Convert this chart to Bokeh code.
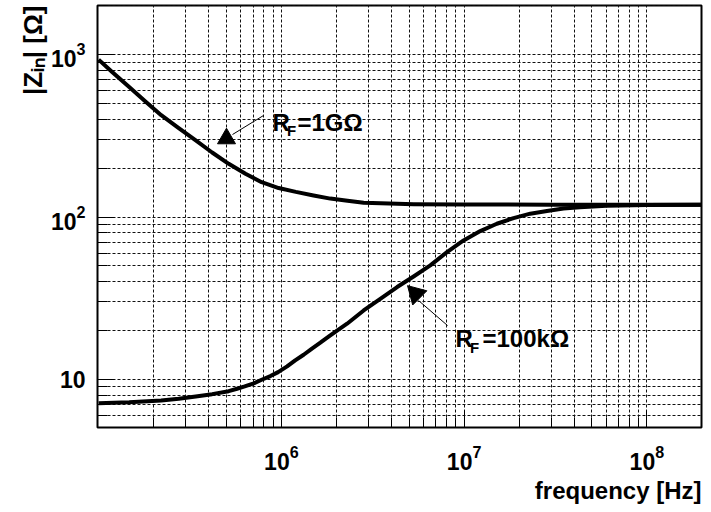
import math
from bokeh.plotting import figure
from bokeh.models import Label, FixedTicker, LogTickFormatter, Title
from bokeh.embed import file_html
from bokeh.resources import INLINE

# ---------------- data ----------------
freq_1g = [1.0e5, 1.186e5, 1.47e5, 1.804e5, 2.2e5, 2.744e5, 3.4e5, 4.18e5,
           5.15e5, 6.36e5, 7.8e5, 9.66e5, 1.2e6, 1.5e6, 1.853e6, 2.3e6,
           2.82e6, 3.5e6, 5.3e6, 1.0e7, 3.0e7, 1.0e8, 2.0e8]
z_1g = [933, 782, 632, 516, 424, 353, 297, 250,
        213, 185, 164, 151, 143, 136, 130, 126,
        122.7, 121.5, 120, 119.5, 119.3, 119.2, 119.2]

freq_100k = [1.0e5, 1.47e5, 2.2e5, 2.744e5, 3.4e5, 4.18e5, 5.15e5, 5.72e5,
             6.3e5, 7.06e5, 7.8e5, 8.71e5, 9.6e5, 1.075e6, 1.19e6, 1.324e6,
             1.47e6, 1.634e6, 1.82e6, 2.017e6, 2.288e6, 2.82e6, 3.478e6,
             4.3e6, 5.29e6, 6.53e6, 8.06e6, 9.93e6, 1.226e7, 1.51e7, 1.864e7,
             2.3e7, 2.84e7, 3.5e7, 4.3e7, 6.0e7, 1.0e8, 2.0e8]
z_100k = [7.14, 7.24, 7.43, 7.61, 7.86, 8.12, 8.47, 8.77,
          9.06, 9.46, 9.96, 10.49, 11.1, 12.03, 13.1, 14.2,
          15.5, 16.84, 18.4, 20.0, 22.05, 26.6, 31.4,
          37.1, 43.1, 50.4, 60.9, 71.8, 82.0, 91.0, 98.6,
          105, 108.9, 113, 115, 117.5, 118.7, 119.2]

x_major = [1e6, 1e7, 1e8]
y_major = [10, 100, 1000]
y_plain_labels = {10: "10"}
x_title = "frequency [Hz]"
y_title = "|Z\u1d62\u2099| [\u03a9]"
label_1g = ("R", "F", "=1G\u03a9")
label_100k = ("R", "F", "=100k\u03a9")

x_lo, x_hi = 9.86e4, 1.99e8
y_lo, y_hi = 5.06, 2010

# ---------------- layout ----------------
W, H = 711, 512
FL, FR, FT, FB = 97, 701, 5, 427
FONT = "Liberation Sans"

lx0, lx1 = math.log10(x_lo), math.log10(x_hi)
ly0, ly1 = math.log10(y_lo), math.log10(y_hi)


def px2x(px):
    return 10 ** (lx0 + (px - FL) / (FR - FL) * (lx1 - lx0))


def px2y(py):
    return 10 ** (ly1 - (py - FT) / (FB - FT) * (ly1 - ly0))


p = figure(width=W, height=H, x_axis_type="log", y_axis_type="log",
           x_range=(x_lo, x_hi), y_range=(y_lo, y_hi),
           output_backend="svg", toolbar_location=None,
           min_border_left=FL, min_border_right=W - FR,
           min_border_top=FT, min_border_bottom=H - FB)
p.background_fill_color = "white"
p.border_fill_color = "white"
p.outline_line_color = "black"
p.outline_line_width = 2

decades_x = [1e5, 1e6, 1e7, 1e8]
decades_y = [1, 10, 100, 1000]
x_minor = [m * d for d in decades_x for m in range(2, 10) if x_lo < m * d < x_hi]
y_minor = [m * d for d in decades_y for m in range(2, 10) if y_lo < m * d < y_hi]

for ax, majors, minors in ((p.xaxis[0], x_major, x_minor), (p.yaxis[0], y_major, y_minor)):
    ax.ticker = FixedTicker(ticks=majors, minor_ticks=minors)
    ax.formatter = LogTickFormatter()
    ax.axis_line_color = None
    ax.major_tick_in = 17
    ax.major_tick_out = 0
    ax.minor_tick_in = 10
    ax.minor_tick_out = 0
    ax.major_tick_line_color = "black"
    ax.minor_tick_line_color = "black"
    ax.major_tick_line_width = 1
    ax.minor_tick_line_width = 1
    ax.major_label_text_font = FONT
    ax.major_label_text_font_style = "bold"
    ax.major_label_text_font_size = "23px"
    ax.major_label_text_color = "black"
p.yaxis.major_label_overrides = y_plain_labels
p.xaxis.major_label_standoff = 17
p.yaxis.major_label_standoff = 12

for g in (p.xgrid[0], p.ygrid[0]):
    g.grid_line_color = "#111111"
    g.grid_line_dash = "3 2"
    g.grid_line_width = 1
    g.minor_grid_line_color = "#111111"
    g.minor_grid_line_dash = "3 2"
    g.minor_grid_line_width = 1

# ---------------- axis titles ----------------
p.add_layout(Title(text=x_title, align="right", text_font=FONT,
                   text_font_style="bold", text_font_size="24px",
                   text_color="black", standoff=5), "below")
p.add_layout(Title(text=y_title, align="right", text_font=FONT,
                   text_font_style="bold", text_font_size="26px",
                   text_color="black", standoff=0), "left")

# ---------------- curves ----------------
p.line(freq_1g, z_1g, line_width=4, line_color="black", line_join="round")
p.line(freq_100k, z_100k, line_width=4, line_color="black", line_join="round")


def label(px, py, text, size, align="left"):
    p.add_layout(Label(x=px2x(px), y=px2y(py), text=text, text_font=FONT,
                       text_font_style="bold", text_font_size=f"{size}px",
                       text_color="black", text_align=align,
                       text_baseline="alphabetic"))


# ---------------- annotations ----------------
label(272, 122, label_1g[0], 24)
label(286.5, 129.5, label_1g[1], 15)
label(297, 122, label_1g[2], 24)
label(455, 338.3, label_100k[0], 24)
label(469.5, 346.7, label_100k[1], 15)
label(482, 338.3, label_100k[2], 24)

arrow_x0 = [px2x(263), px2x(447)]
arrow_y0 = [px2y(115), px2y(325)]
arrow_x1 = [px2x(232), px2x(418)]
arrow_y1 = [px2y(134), px2y(300)]
p.segment(arrow_x0, arrow_y0, arrow_x1, arrow_y1, line_color="black", line_width=1)

head_x = [px2x(226), px2x(415.2)]
head_y = [px2y(138.1), px2y(293.3)]
head_size = [18, 20]
head_angle = [0.0, math.pi / 4]
p.scatter(head_x, head_y, marker="triangle", size=head_size, angle=head_angle,
          fill_color="black", line_color="black")

open("out.html", "w").write(file_html(p, INLINE))
